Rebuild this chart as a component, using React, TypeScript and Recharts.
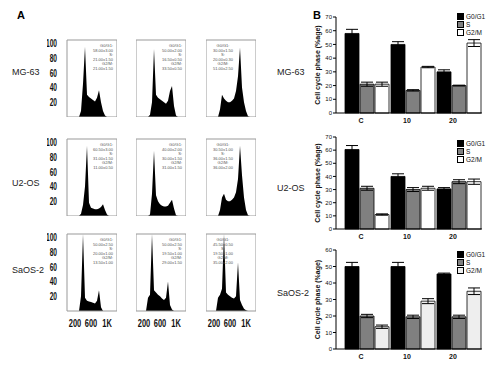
import React from 'react';
import { AreaChart, Area, XAxis, YAxis, ReferenceArea, BarChart, Bar, ErrorBar } from 'recharts';

// flow cytometry channels (DNA content)
const channels = [0, 50, 100, 150, 200, 250, 300, 350, 400, 450, 500, 550, 600, 650, 700, 750, 800, 850, 900, 950, 1000, 1050, 1100, 1150, 1200, 1250];

// cell counts (% of max) per channel
const mg63C = [0, 0, 0, 0, 0, 0, 0, 8, 45, 95, 30, 27, 25, 23, 21, 26, 36, 20, 8, 2, 0, 0, 0, 0, 0, 0];
const mg6310 = [0, 0, 0, 0, 0, 0, 0, 3, 20, 92, 30, 26, 24, 22, 20, 18, 22, 35, 42, 15, 2, 0, 0, 0, 0, 0];
const mg6320 = [0, 0, 0, 0, 0, 0, 0, 10, 30, 25, 22, 20, 20, 22, 25, 35, 55, 94, 40, 20, 8, 1, 0, 0, 0, 0];
const u2osC = [0, 0, 0, 0, 0, 0, 0, 3, 15, 40, 95, 18, 11, 10, 9, 9, 10, 12, 16, 8, 2, 0, 0, 0, 0, 0];
const u2os10 = [0, 0, 0, 0, 0, 0, 0, 2, 30, 88, 28, 20, 16, 14, 13, 13, 14, 18, 22, 10, 1, 0, 0, 0, 0, 0];
const u2os20 = [0, 0, 0, 0, 0, 0, 0, 8, 25, 30, 22, 20, 20, 22, 25, 32, 50, 95, 55, 25, 8, 1, 0, 0, 0, 0];
const saosC = [0, 0, 0, 0, 0, 0, 0, 20, 104, 18, 14, 13, 12, 11, 10, 14, 28, 5, 0, 0, 0, 0, 0, 0, 0, 0];
const saos10 = [0, 0, 0, 0, 0, 0, 18, 22, 104, 28, 25, 22, 20, 17, 15, 18, 40, 8, 2, 0, 0, 0, 0, 0, 0, 0];
const saos20 = [0, 0, 0, 0, 0, 0, 18, 22, 30, 104, 25, 22, 20, 18, 17, 20, 66, 15, 8, 3, 1, 0, 0, 0, 0, 0];

const histYTicks = [20, 40, 60, 80, 100];
const histXTicks = [200, 600, 1000];
const histXLabels = ['200', '600', '1K'];

const cellLines = ['MG-63', 'U2-OS', 'SaOS-2'];
const doseLabels = ['C', '10', '20'];
const phaseNames = ['G0/G1', 'S', 'G2/M'];
const ticks70 = [0, 10, 20, 30, 40, 50, 60, 70];
const ticks60 = [0, 10, 20, 30, 40, 50, 60];

// % of cells in each phase (C, 10, 20)
const mg63G1 = [58, 50, 30];
const mg63S = [21, 16.5, 20];
const mg63G2M = [21, 33.5, 51];
const mg63G1Err = [3, 2, 1.5];
const mg63SErr = [1.5, 0.5, 0.3];
const mg63G2MErr = [1.5, 0.5, 2.5];

const u2osG1 = [60.5, 40, 30.5];
const u2osS = [31, 30, 36];
const u2osG2M = [11, 31, 36];
const u2osG1Err = [3, 2, 1];
const u2osSErr = [1.5, 1.5, 1.5];
const u2osG2MErr = [0.5, 1.5, 2];

const saosG1 = [50, 50, 45.5];
const saosS = [20, 19.5, 19.5];
const saosG2M = [13.5, 29, 35];
const saosG1Err = [2.5, 2.5, 0.5];
const saosSErr = [1, 1, 1];
const saosG2MErr = [1, 1.5, 2];

const histCounts = [
  [mg63C, mg6310, mg6320],
  [u2osC, u2os10, u2os20],
  [saosC, saos10, saos20],
];
const phaseData = [
  { g1: mg63G1, s: mg63S, g2m: mg63G2M, g1e: mg63G1Err, se: mg63SErr, g2me: mg63G2MErr },
  { g1: u2osG1, s: u2osS, g2m: u2osG2M, g1e: u2osG1Err, se: u2osSErr, g2me: u2osG2MErr },
  { g1: saosG1, s: saosS, g2m: saosG2M, g1e: saosG1Err, se: saosSErr, g2me: saosG2MErr },
];

const font = '"Liberation Sans", Arial, sans-serif';
const boxLeft = [67, 136, 206];
const boxTop = [40, 139, 234];
const boxW = 50;
const boxH = 77;
const padTop = 6;

const HistYTick = (props: any) => {
  const { x, y, payload } = props;
  return (
    <g transform={`translate(${x},${y}) scale(0.6,1)`}>
      <text textAnchor='end' dy='0.36em' fontSize={11} fontWeight='bold' fill='#111' fontFamily={font}>
        {payload.value}
      </text>
    </g>
  );
};

const HistXTick = (props: any) => {
  const { x, y, payload } = props;
  const i = histXTicks.indexOf(payload.value);
  return (
    <g transform={`translate(${x},${y + 12}) scale(0.68,1)`}>
      <text textAnchor='middle' dy='0.36em' fontSize={11} fontWeight='bold' fill='#111' fontFamily={font}>
        {histXLabels[i]}
      </text>
    </g>
  );
};

const Histogram = ({ row, col }: { row: number; col: number }) => {
  const counts = histCounts[row][col];
  const data = channels.map((ch, i) => ({ ch, n: counts[i] }));
  const showY = col === 0;
  const showX = row === 2;
  const yW = showY ? 20 : 0;
  const xH = showX ? 22 : 0;
  const p = phaseData[row];
  const lines = [
    'G0/G1:',
    `${p.g1[col].toFixed(2)}±${p.g1e[col].toFixed(2)}`,
    'S:',
    `${p.s[col].toFixed(2)}±${p.se[col].toFixed(2)}`,
    'G2/M:',
    `${p.g2m[col].toFixed(2)}±${p.g2me[col].toFixed(2)}`,
  ];
  return (
    <>
      <div style={{ position: 'absolute', left: boxLeft[col] - yW, top: boxTop[row] - padTop }}>
        <AreaChart
          width={boxW + yW}
          height={boxH + xH + padTop}
          data={data}
          margin={{ top: padTop, right: 0, bottom: 0, left: 0 }}
        >
          <XAxis
            dataKey='ch'
            type='number'
            domain={[0, 1250]}
            hide={!showX}
            ticks={histXTicks}
            interval={0}
            tick={<HistXTick />}
            tickLine={false}
            axisLine={false}
            tickSize={0}
            tickMargin={0}
            height={xH}
          />
          <YAxis
            domain={[0, 104]}
            hide={!showY}
            ticks={histYTicks}
            interval={0}
            tick={<HistYTick />}
            tickLine={false}
            axisLine={false}
            tickSize={0}
            tickMargin={10}
            width={yW}
          />
          <Area type='linear' dataKey='n' stroke='none' fill='#000' fillOpacity={1} isAnimationActive={false} />
          <ReferenceArea x1={0} x2={1250} y1={0} y2={104} fill='none' stroke='#999' strokeWidth={1} />
        </AreaChart>
      </div>
      <div
        style={{
          position: 'absolute',
          left: col === 2 ? boxLeft[col] + 5 : boxLeft[col] + 22,
          width: 24,
          top: boxTop[row] + 4,
          fontSize: 4,
          lineHeight: '4.5px',
          color: '#555',
          textAlign: col === 2 ? 'center' : 'right',
          fontFamily: font,
          whiteSpace: 'nowrap',
        }}
      >
        {lines.map((l, i) => (
          <div key={i}>{l}</div>
        ))}
      </div>
    </>
  );
};

const DoseTick = (props: any) => {
  const { x, y, payload } = props;
  return (
    <text x={x - 6} y={y} dy='0.71em' textAnchor='middle' fontSize={7} fontWeight='bold' fill='#111' fontFamily={font}>
      {payload.value}
    </text>
  );
};

const chartTop = [5, 125, 238];
const chartHeight = [125, 121, 128];
const yMaxes = [70, 70, 60];
const g2mFills = ['#ffffff', '#ffffff', '#eeeeee'];
const legendTop = [12, 139, 250];

const CyclePanel = ({ row }: { row: number }) => {
  const p = phaseData[row];
  const data = doseLabels.map((d, i) => ({
    dose: d,
    pos: i + 0.5,
    g1: p.g1[i],
    s: p.s[i],
    g2m: p.g2m[i],
    g1e: p.g1e[i],
    se: p.se[i],
    g2me: p.g2me[i],
  }));
  const fills = ['#000000', '#808080', g2mFills[row]];
  return (
    <>
      <div style={{ position: 'absolute', left: 300, top: chartTop[row] }}>
        <BarChart
          width={190}
          height={chartHeight[row]}
          data={data}
          margin={{ top: 12, right: 8, bottom: 5, left: 16 }}
          barSize={14}
          barGap={1}
        >
          <XAxis
            xAxisId='sep'
            dataKey='pos'
            type='number'
            domain={[0, 3]}
            allowDataOverflow
            ticks={[0, 1, 2, 3]}
            interval={0}
            tick={false}
            axisLine={false}
            tickSize={3}
            tickLine={{ stroke: '#000' }}
            height={0}
          />
          <XAxis
            xAxisId='cat'
            dataKey='dose'
            padding={{ left: 8, right: 0 }}
            tick={<DoseTick />}
            tickLine={false}
            axisLine={{ stroke: '#000' }}
            tickSize={0}
            tickMargin={5}
            height={12}
          />
          <YAxis
            domain={[0, yMaxes[row]]}
            ticks={yMaxes[row] === 70 ? ticks70 : ticks60}
            interval={0}
            tickSize={3}
            tickMargin={1}
            tick={{ fontSize: 6, fill: '#111', fontFamily: font }}
            axisLine={{ stroke: '#000' }}
            tickLine={{ stroke: '#000' }}
            width={20}
            label={{
              value: 'Cell cycle phase (%age)',
              angle: -90,
              position: 'center',
              dx: -8,
              style: { fontSize: 7, fontWeight: 'bold', fill: '#111', fontFamily: font },
            }}
          />
          <Bar xAxisId='cat' dataKey='g1' fill={fills[0]} stroke='#000' strokeWidth={0.8} isAnimationActive={false}>
            <ErrorBar dataKey='g1e' width={6} stroke='#000' strokeWidth={1} direction='y' />
          </Bar>
          <Bar xAxisId='cat' dataKey='s' fill={fills[1]} stroke='#000' strokeWidth={0.8} isAnimationActive={false}>
            <ErrorBar dataKey='se' width={6} stroke='#000' strokeWidth={1} direction='y' />
          </Bar>
          <Bar xAxisId='cat' dataKey='g2m' fill={fills[2]} stroke='#000' strokeWidth={0.8} isAnimationActive={false}>
            <ErrorBar dataKey='g2me' width={6} stroke='#000' strokeWidth={1} direction='y' />
          </Bar>
        </BarChart>
      </div>
      <div style={{ position: 'absolute', left: 457, top: legendTop[row], fontFamily: font, fontSize: 6.5, color: '#111' }}>
        {phaseNames.map((n, i) => (
          <div key={n} style={{ display: 'flex', alignItems: 'center', height: 8 }}>
            <span style={{ display: 'inline-block', width: 5, height: 5, background: fills[i], border: '0.8px solid #000', marginRight: 2 }} />
            {n}
          </div>
        ))}
      </div>
    </>
  );
};

const rowLabelA = [72, 183, 270];
const rowLabelB = [72, 188, 293];

const App = () => {
  return (
    <div
      style={{
        position: 'fixed',
        left: 0,
        top: 0,
        width: 500,
        height: 374,
        background: '#fff',
        overflow: 'hidden',
        fontFamily: font,
      }}
    >
      <div style={{ position: 'absolute', left: 17, top: 9, fontSize: 11, fontWeight: 'bold' }}>A</div>
      <div style={{ position: 'absolute', left: 313, top: 9, fontSize: 11, fontWeight: 'bold' }}>B</div>
      {cellLines.map((c, r) => (
        <React.Fragment key={c}>
          <div style={{ position: 'absolute', left: 12, top: rowLabelA[r] - 5, fontSize: 9, lineHeight: '10px', color: '#222' }}>{c}</div>
          <div style={{ position: 'absolute', left: 277, top: rowLabelB[r] - 5, fontSize: 9, lineHeight: '10px', color: '#222' }}>{c}</div>
          {[0, 1, 2].map((col) => (
            <Histogram key={col} row={r} col={col} />
          ))}
          <CyclePanel row={r} />
        </React.Fragment>
      ))}
    </div>
  );
};

export default App;
